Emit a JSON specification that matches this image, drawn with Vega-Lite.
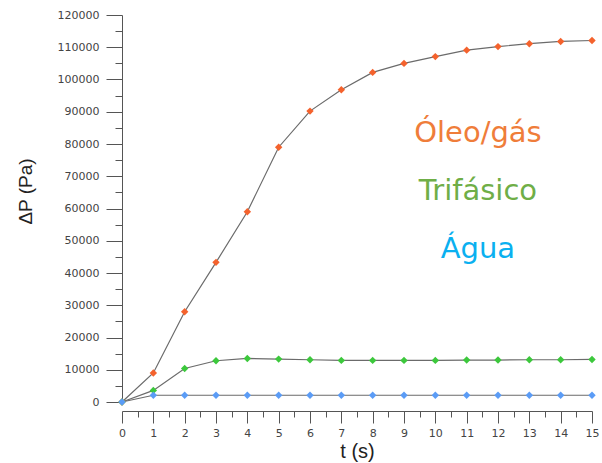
{
  "$schema": "https://vega.github.io/schema/vega-lite/v6.json",
  "width": 470,
  "height": 387,
  "autosize": "none",
  "padding": {"left": 122, "top": 15, "right": 10, "bottom": 61},
  "background": "white",
  "config": {"view": {"stroke": null}},
  "datasets": {
    "series": [
      {"t": 0, "dp": 0, "serie": "Óleo/gás"},
      {"t": 1, "dp": 9000, "serie": "Óleo/gás"},
      {"t": 2, "dp": 28000, "serie": "Óleo/gás"},
      {"t": 3, "dp": 43300, "serie": "Óleo/gás"},
      {"t": 4, "dp": 59000, "serie": "Óleo/gás"},
      {"t": 5, "dp": 79000, "serie": "Óleo/gás"},
      {"t": 6, "dp": 90200, "serie": "Óleo/gás"},
      {"t": 7, "dp": 96800, "serie": "Óleo/gás"},
      {"t": 8, "dp": 102200, "serie": "Óleo/gás"},
      {"t": 9, "dp": 105000, "serie": "Óleo/gás"},
      {"t": 10, "dp": 107100, "serie": "Óleo/gás"},
      {"t": 11, "dp": 109100, "serie": "Óleo/gás"},
      {"t": 12, "dp": 110200, "serie": "Óleo/gás"},
      {"t": 13, "dp": 111100, "serie": "Óleo/gás"},
      {"t": 14, "dp": 111800, "serie": "Óleo/gás"},
      {"t": 15, "dp": 112100, "serie": "Óleo/gás"},
      {"t": 0, "dp": 0, "serie": "Trifásico"},
      {"t": 1, "dp": 3600, "serie": "Trifásico"},
      {"t": 2, "dp": 10400, "serie": "Trifásico"},
      {"t": 3, "dp": 12800, "serie": "Trifásico"},
      {"t": 4, "dp": 13500, "serie": "Trifásico"},
      {"t": 5, "dp": 13300, "serie": "Trifásico"},
      {"t": 6, "dp": 13100, "serie": "Trifásico"},
      {"t": 7, "dp": 12900, "serie": "Trifásico"},
      {"t": 8, "dp": 12900, "serie": "Trifásico"},
      {"t": 9, "dp": 12900, "serie": "Trifásico"},
      {"t": 10, "dp": 12900, "serie": "Trifásico"},
      {"t": 11, "dp": 13000, "serie": "Trifásico"},
      {"t": 12, "dp": 13000, "serie": "Trifásico"},
      {"t": 13, "dp": 13100, "serie": "Trifásico"},
      {"t": 14, "dp": 13100, "serie": "Trifásico"},
      {"t": 15, "dp": 13200, "serie": "Trifásico"},
      {"t": 0, "dp": 0, "serie": "Água"},
      {"t": 1, "dp": 2100, "serie": "Água"},
      {"t": 2, "dp": 2100, "serie": "Água"},
      {"t": 3, "dp": 2100, "serie": "Água"},
      {"t": 4, "dp": 2100, "serie": "Água"},
      {"t": 5, "dp": 2100, "serie": "Água"},
      {"t": 6, "dp": 2100, "serie": "Água"},
      {"t": 7, "dp": 2100, "serie": "Água"},
      {"t": 8, "dp": 2100, "serie": "Água"},
      {"t": 9, "dp": 2100, "serie": "Água"},
      {"t": 10, "dp": 2100, "serie": "Água"},
      {"t": 11, "dp": 2100, "serie": "Água"},
      {"t": 12, "dp": 2100, "serie": "Água"},
      {"t": 13, "dp": 2100, "serie": "Água"},
      {"t": 14, "dp": 2100, "serie": "Água"},
      {"t": 15, "dp": 2100, "serie": "Água"}
    ],
    "labels": [
      {"t": 11.36, "dp": 80600, "label": "Óleo/gás", "serie": "Óleo/gás"},
      {"t": 11.36, "dp": 62600, "label": "Trifásico", "serie": "Trifásico"},
      {"t": 11.36, "dp": 44650, "label": "Água", "serie": "Água"}
    ]
  },
  "layer": [
    {
      "data": {"name": "series"},
      "mark": {"type": "line", "color": "#6b6b6b", "strokeWidth": 1.2},
      "encoding": {
        "x": {
          "field": "t", "type": "quantitative",
          "scale": {"domain": [0, 15], "nice": false, "zero": false},
          "axis": {
            "orient": "bottom", "title": "t (s)", "values": [0,1,2,3,4,5,6,7,8,9,10,11,12,13,14,15],
            "offset": 9, "grid": false, "tickSize": 12, "tickColor": "#555", "domainColor": "#555",
            "labelFont": "DejaVu Sans", "labelFontSize": 11, "labelColor": "#444", "labelPadding": 4,
            "labelFlush": false,
            "titleFont": "Liberation Sans", "titleFontSize": 20, "titleFontWeight": "normal", "titleColor": "#222",
            "titlePadding": 3
          }
        },
        "y": {
          "field": "dp", "type": "quantitative",
          "scale": {"domain": [0, 120000], "nice": false},
          "axis": {
            "orient": "left", "title": "ΔP (Pa)",
            "values": [0,10000,20000,30000,40000,50000,60000,70000,80000,90000,100000,110000,120000],
            "format": "d", "grid": false, "tickSize": 16, "tickColor": "#555", "domainColor": "#555",
            "labelFont": "DejaVu Sans", "labelFontSize": 11, "labelColor": "#444", "labelPadding": 7,
            "titleFont": "Liberation Sans", "titleFontSize": 19, "titleFontWeight": "normal", "titleColor": "#222",
            "titleAngle": -90, "titleX": -97, "titleY": 176, "titleAlign": "center", "titleBaseline": "middle"
          }
        },
        "detail": {"field": "serie"}
      }
    },
    {
      "data": {"name": "series"},
      "mark": {"type": "point", "shape": "diamond", "filled": true, "size": 55, "opacity": 1},
      "encoding": {
        "x": {
          "field": "t", "type": "quantitative",
          "axis": {
            "orient": "bottom", "title": null, "labels": false, "offset": 9,
            "values": [0.5,1.5,2.5,3.5,4.5,5.5,6.5,7.5,8.5,9.5,10.5,11.5,12.5,13.5,14.5],
            "tickSize": 6, "tickColor": "#555", "domain": false, "grid": false
          }
        },
        "y": {
          "field": "dp", "type": "quantitative",
          "axis": {
            "orient": "left", "title": null, "labels": false,
            "values": [5000,15000,25000,35000,45000,55000,65000,75000,85000,95000,105000,115000],
            "tickSize": 7, "tickColor": "#555", "domain": false, "grid": false
          }
        },
        "color": {
          "field": "serie", "type": "nominal",
          "scale": {"domain": ["Óleo/gás", "Trifásico", "Água"], "range": ["#f4622d", "#3cc83c", "#5b9cf6"]},
          "legend": null
        }
      }
    },
    {
      "data": {"name": "labels"},
      "mark": {"type": "text", "font": "DejaVu Sans", "fontSize": 29, "align": "center", "baseline": "alphabetic"},
      "encoding": {
        "x": {"field": "t", "type": "quantitative", "axis": null},
        "y": {"field": "dp", "type": "quantitative", "axis": null},
        "text": {"field": "label"},
        "color": {
          "field": "serie", "type": "nominal",
          "scale": {"domain": ["Óleo/gás", "Trifásico", "Água"], "range": ["#ef7d3a", "#6fae47", "#0ab0f0"]},
          "legend": null
        }
      }
    }
  ],
  "resolve": {"axis": {"x": "independent", "y": "independent"}, "scale": {"color": "independent"}}
}
